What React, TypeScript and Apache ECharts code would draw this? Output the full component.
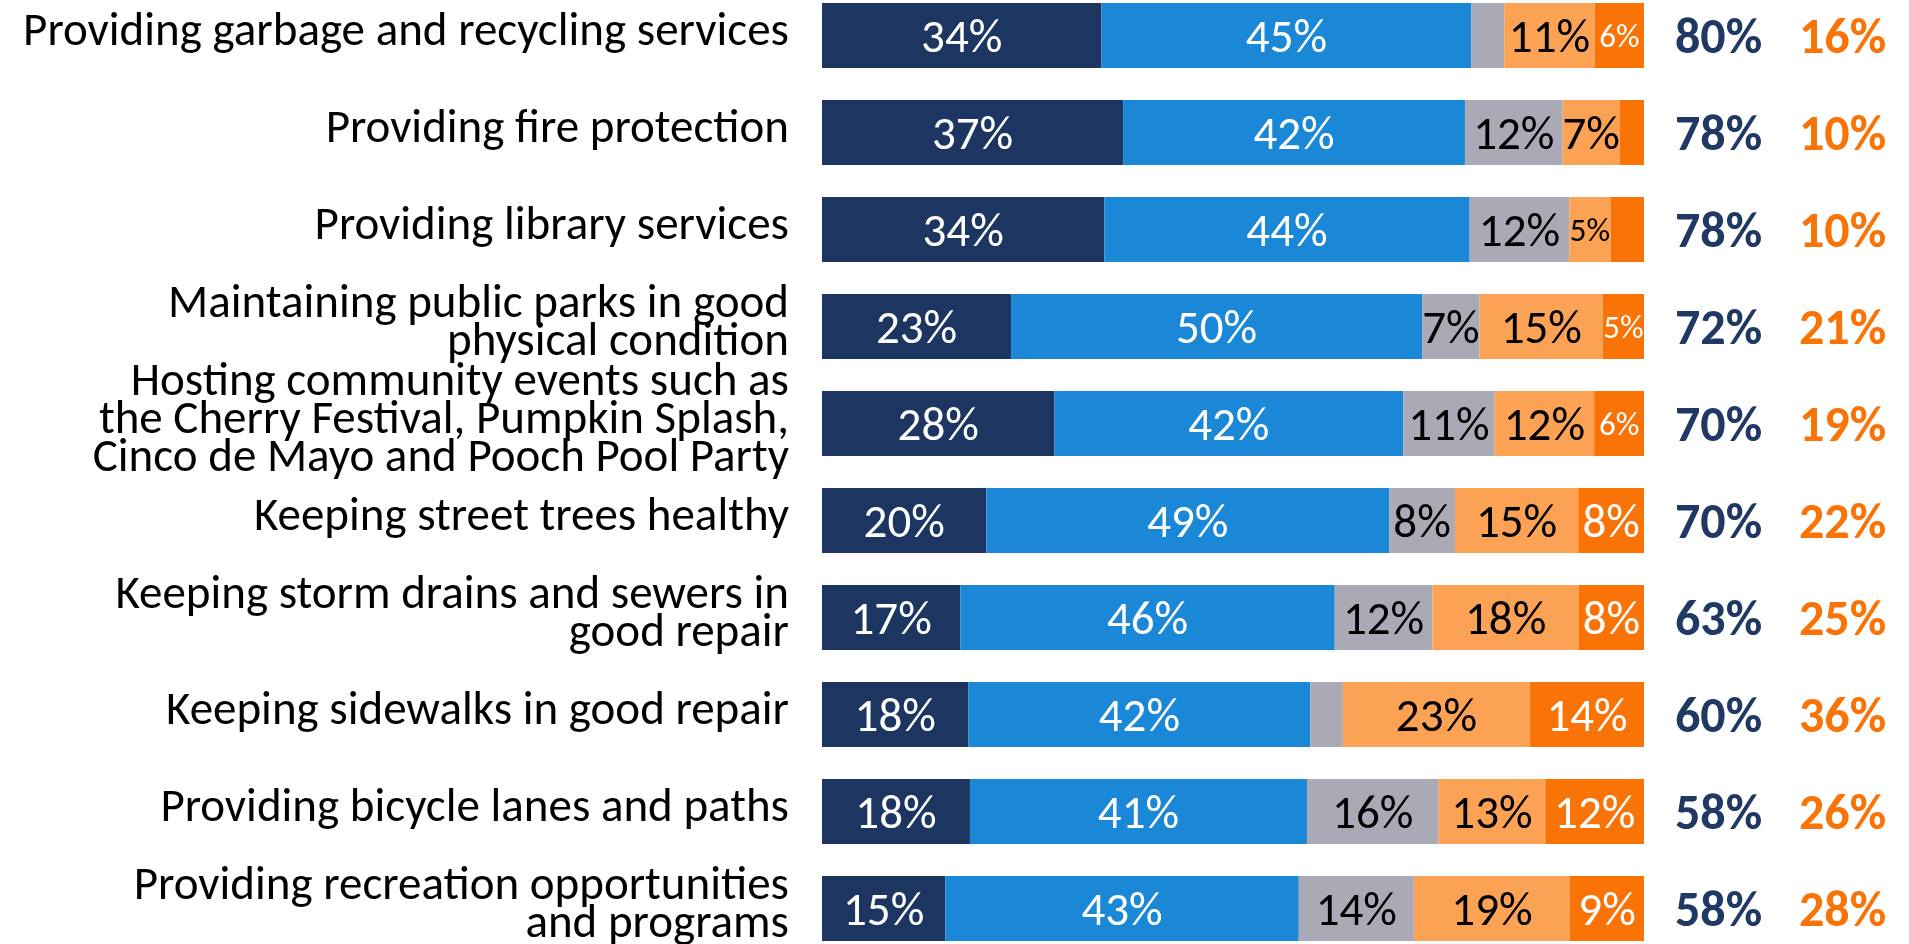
import React, { useEffect, useRef } from "react";
import * as echarts from "echarts";

const categories = [
  "Providing garbage and recycling services",
  "Providing fire protection",
  "Providing library services",
  "Maintaining public parks in good\nphysical condition",
  "Hosting community events such as\nthe Cherry Festival, Pumpkin Splash,\nCinco de Mayo and Pooch Pool Party",
  "Keeping street trees healthy",
  "Keeping storm drains and sewers in\ngood repair",
  "Keeping sidewalks in good repair",
  "Providing bicycle lanes and paths",
  "Providing recreation opportunities\nand programs",
];
const verySatisfied = [34, 37, 34, 23, 28, 20, 17, 18, 18, 15];
const somewhatSatisfied = [45, 42, 44, 50, 42, 49, 46, 42, 41, 43];
const neutral = [4, 12, 12, 7, 11, 8, 12, 4, 16, 14];
const somewhatDissatisfied = [11, 7, 5, 15, 12, 15, 18, 23, 13, 19];
const veryDissatisfied = [6, 3, 4, 5, 6, 8, 8, 14, 12, 9];
const totalSatisfied = [80, 78, 78, 72, 70, 70, 63, 60, 58, 58];
const totalDissatisfied = [16, 10, 10, 21, 19, 22, 25, 36, 26, 28];

const FONT = "Carlito, Lato, 'Open Sans', sans-serif";

const seriesDefs = [
  { name: "Very satisfied", values: verySatisfied, color: "#1D3561", text: "#FFFFFF" },
  { name: "Somewhat satisfied", values: somewhatSatisfied, color: "#1A88D7", text: "#FFFFFF" },
  { name: "Neutral", values: neutral, color: "#A9AAB6", text: "#000000" },
  { name: "Somewhat dissatisfied", values: somewhatDissatisfied, color: "#FBA255", text: "#000000" },
  { name: "Very dissatisfied", values: veryDissatisfied, color: "#F97306", text: "#FFFFFF" },
];

export default function App() {
  const ref = useRef<HTMLDivElement>(null);
  useEffect(() => {
    if (!ref.current) return;
    const chart = echarts.init(ref.current, null, { renderer: "svg" });
    const rowSums = categories.map((_, i) =>
      seriesDefs.reduce((s, d) => s + d.values[i], 0)
    );
    const series = seriesDefs.map((d) => ({
      name: d.name,
      type: "bar",
      stack: "total",
      barWidth: 65,
      itemStyle: { color: d.color },
      label: {
        show: true,
        position: "inside",
        color: d.text,
        fontFamily: FONT,
        fontSize: 47,
        formatter: (p: any) => `${d.values[p.dataIndex]}%`,
      },
      data: d.values.map((v, i) => ({
        value: (v / rowSums[i]) * 100,
        label: v < 5 ? { show: false } : v <= 6 ? { fontSize: 33 } : {},
      })),
    }));
    chart.setOption({
      animation: false,
      grid: {
        left: 822,
        right: 265,
        top: -13,
        bottom: -13,
        containLabel: false,
        outerBoundsMode: "none",
      },
      xAxis: { type: "value", min: 0, max: 100, show: false },
      yAxis: [
        {
          type: "category",
          data: categories,
          inverse: true,
          axisLine: { show: false },
          axisTick: { show: false },
          axisLabel: {
            margin: 33,
            formatter: (v: string) =>
              v
                .split("\n")
                .map((l) => `{l|${l}}`)
                .join("\n") + "\n{sp| }",
            rich: {
              l: {
                fontFamily: FONT,
                fontSize: 47,
                lineHeight: 38,
                color: "#000000",
              },
              sp: { fontSize: 2, lineHeight: 14, height: 14 },
            },
          },
        },
        {
          type: "category",
          data: categories,
          inverse: true,
          position: "right",
          axisLine: { show: false },
          axisTick: { show: false },
          axisLabel: {
            margin: 31,
            formatter: (_v: string, i: number) =>
              `{a|${totalSatisfied[i]}%}{b|${totalDissatisfied[i]}%}`,
            rich: {
              a: {
                width: 124,
                align: "left",
                fontFamily: FONT,
                fontSize: 50,
                fontWeight: "bold",
                color: "#1F3864",
              },
              b: {
                fontFamily: FONT,
                fontSize: 50,
                fontWeight: "bold",
                color: "#F97306",
              },
            },
          },
        },
      ],
      series,
    });
    return () => chart.dispose();
  }, []);
  return (
    <div
      ref={ref}
      style={{ position: "fixed", left: 0, top: 0, width: 1909, height: 944 }}
    />
  );
}
